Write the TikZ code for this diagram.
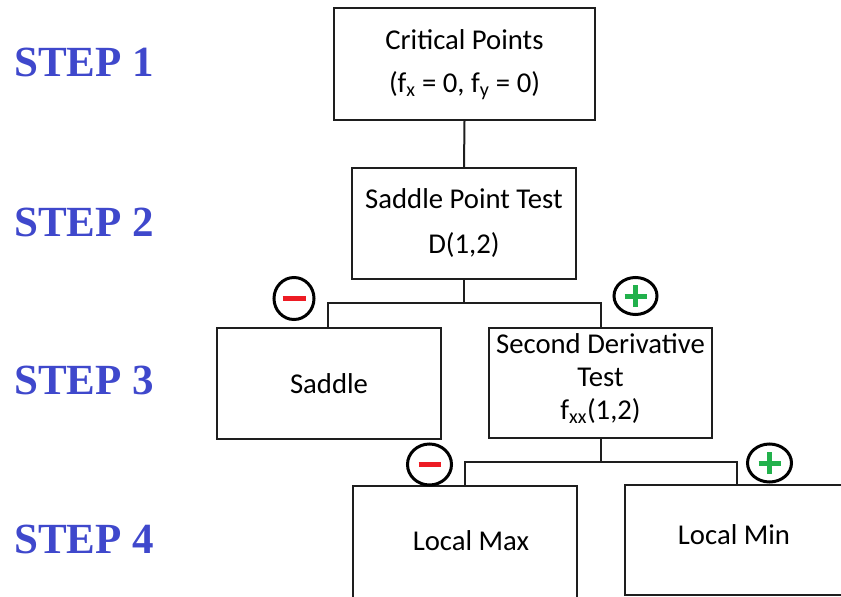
\documentclass[tikz,border=0pt]{standalone}
\usepackage{fontspec}
\setmainfont{Carlito}
\newfontfamily\stepfont{Liberation Serif}
\usetikzlibrary{shapes.geometric}
\definecolor{stepblue}{RGB}{63,72,204}
\definecolor{minusred}{RGB}{237,28,36}
\definecolor{plusgreen}{RGB}{34,177,76}
\definecolor{ink}{RGB}{30,30,30}
\newcommand{\lift}[2]{\raisebox{#1}[\height][\depth]{#2}}
\tikzset{
  steplabel/.style={anchor=base west, inner sep=0pt, text=stepblue,
    font=\stepfont\bfseries\fontsize{43}{43}\selectfont},
  box/.style={draw=ink, line width=2pt, inner sep=0pt, align=center,
    font=\fontsize{28.7}{45}\selectfont},
  tightbox/.style={box, font=\fontsize{28.7}{33}\selectfont},
  link/.style={draw=ink, line width=2pt},
  sign/.style={ellipse, draw=black, line width=3pt, inner sep=0pt},
  minusbar/.style={draw=minusred, line width=5pt},
  plusbar/.style={draw=plusgreen, line width=5pt},
}
\begin{document}
\begin{tikzpicture}[x=1pt, y=-1pt]
  \useasboundingbox (0,0) rectangle (841,597);
  \clip (0,0) rectangle (841,597);

  % step labels on the left
  \node[steplabel] (s1) at (14,76) {STEP 1};
  \node[steplabel] (s2) at (14,236) {STEP 2};
  \node[steplabel] (s3) at (14,394) {STEP 3};
  \node[steplabel] (s4) at (14,553) {STEP 4};

  % decision boxes
  \node[box, minimum width=261, minimum height=112] (crit) at (464.5,64)
    {\lift{-2pt}{Critical Points}\\(f\textsubscript{x} = 0, f\textsubscript{y} = 0)};
  \node[box, minimum width=224, minimum height=111] (dtest) at (464,223.5)
    {Saddle Point Test\\D(1,2)};
  \node[box, minimum width=224, minimum height=111] (saddle) at (329,383.5)
    {Saddle};
  \node[tightbox, minimum width=223, minimum height=110] (sdt) at (600.5,383)
    {\lift{4pt}{Second Derivative}\\\lift{4pt}{Test}\\\lift{4pt}{f\textsubscript{xx}(1,2)}};
  \node[box, minimum width=224, minimum height=130, anchor=north] (lmax) at (465,485)
    {\hspace*{12pt}\lift{10pt}{Local Max}};
  \node[box, minimum width=224, minimum height=110] (lmin) at (737,540)
    {\lift{5pt}{Local Min}\hspace*{6pt}};

  % connectors
  \coordinate (j1) at (dtest.south |- 0,303);
  \coordinate (j2) at (sdt.south |- 0,462);
  \draw[link] (crit.south) -- (dtest.north);
  \draw[link] (dtest.south) -- (j1);
  \draw[link] (j1) -| ([xshift=-1pt]saddle.north);
  \draw[link] (j1) -| (sdt.north);
  \draw[link] (sdt.south) -- (j2);
  \draw[link] (j2) -| (lmax.north);
  \draw[link] (j2) -| (lmin.north);

  % sign markers
  \node[sign, minimum width=40, minimum height=42] (m1) at (294,298.5) {};
  \node[sign, minimum width=43, minimum height=37] (p1) at (635.5,296) {};
  \node[sign, minimum width=44, minimum height=41] (m2) at (429.5,464.5) {};
  \node[sign, minimum width=44, minimum height=38] (p2) at (769.5,463) {};

  \draw[minusbar] ([xshift=-11.5pt]m1.center) -- ([xshift=11.5pt]m1.center);
  \draw[minusbar] ([xshift=-11pt]m2.center) -- ([xshift=11pt]m2.center);
  \draw[plusbar] ([xshift=-11pt]p1.center) -- ([xshift=11pt]p1.center);
  \draw[plusbar] ([yshift=-11pt]p1.center) -- ([yshift=11pt]p1.center);
  \draw[plusbar] ([xshift=-11pt]p2.center) -- ([xshift=11pt]p2.center);
  \draw[plusbar] ([yshift=-11pt]p2.center) -- ([yshift=11pt]p2.center);
\end{tikzpicture}
\end{document}
